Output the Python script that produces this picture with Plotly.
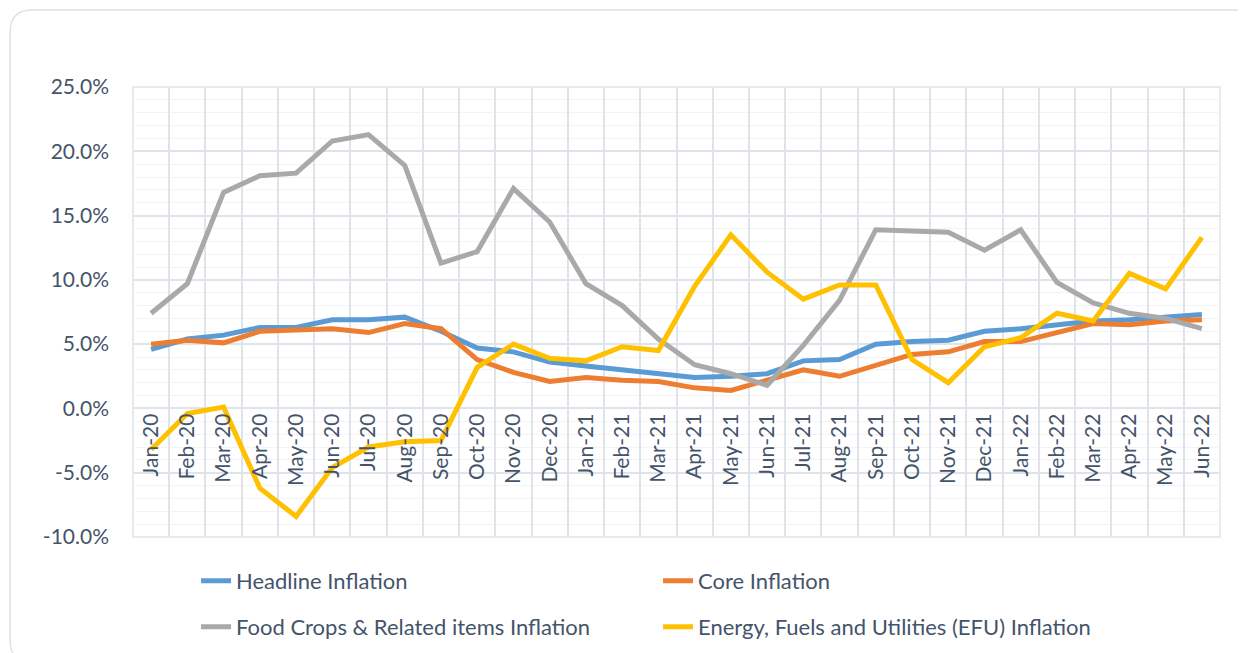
import plotly.graph_objects as go

months = ["Jan-20", "Feb-20", "Mar-20", "Apr-20", "May-20", "Jun-20", "Jul-20", "Aug-20",
          "Sep-20", "Oct-20", "Nov-20", "Dec-20", "Jan-21", "Feb-21", "Mar-21", "Apr-21",
          "May-21", "Jun-21", "Jul-21", "Aug-21", "Sep-21", "Oct-21", "Nov-21", "Dec-21",
          "Jan-22", "Feb-22", "Mar-22", "Apr-22", "May-22", "Jun-22"]

headline = [4.6, 5.4, 5.7, 6.3, 6.3, 6.9, 6.9, 7.1, 6.0, 4.7, 4.4, 3.6, 3.3, 3.0, 2.7, 2.4,
            2.5, 2.7, 3.7, 3.8, 5.0, 5.2, 5.3, 6.0, 6.2, 6.5, 6.8, 6.9, 7.1, 7.3]
core = [5.0, 5.3, 5.1, 6.0, 6.1, 6.2, 5.9, 6.6, 6.2, 3.8, 2.8, 2.1, 2.4, 2.2, 2.1, 1.6,
        1.4, 2.2, 3.0, 2.5, 3.3, 4.2, 4.4, 5.2, 5.2, 5.9, 6.6, 6.5, 6.8, 6.9]
food = [7.4, 9.7, 16.8, 18.1, 18.3, 20.8, 21.3, 18.9, 11.3, 12.2, 17.1, 14.5, 9.7, 8.0,
        5.4, 3.4, 2.7, 1.8, 4.9, 8.4, 13.9, 13.8, 13.7, 12.3, 13.9, 9.8, 8.2, 7.4, 7.0, 6.2]
efu = [-3.2, -0.4, 0.1, -6.2, -8.4, -4.6, -3.0, -2.6, -2.5, 3.2, 5.0, 3.9, 3.7, 4.8,
       4.5, 9.5, 13.5, 10.6, 8.5, 9.6, 9.6, 3.8, 2.0, 4.8, 5.5, 7.4, 6.8, 10.5, 9.3, 13.3]

y_ticks = [-10, -5, 0, 5, 10, 15, 20, 25]
y_labels = ["-10.0%", "-5.0%", "0.0%", "5.0%", "10.0%", "15.0%", "20.0%", "25.0%"]

series = [
    ("Headline Inflation", headline, "#5B9BD5", "legend"),
    ("Core Inflation", core, "#ED7D31", "legend"),
    ("Food Crops & Related items Inflation", food, "#A9A9A9", "legend2"),
    ("Energy, Fuels and Utilities (EFU) Inflation", efu, "#FFC000", "legend2"),
]

text_color = "#44546A"
grid_color = "#dfe3ea"
font_name = "Lato"
fsize = 21

fig = go.Figure()
for name, vals, color, leg in series:
    fig.add_trace(go.Scatter(x=months, y=vals, name=name, mode="lines",
                             line=dict(color=color, width=5), legend=leg))

# outer rounded frame (paper coords)
x0, x1, y0, y1 = -0.113, 1.033, -0.28, 1.171
rx, ry = 0.02, 0.049
frame = (f"M {x0+rx},{y1} L {x1-rx},{y1} Q {x1},{y1} {x1},{y1-ry} L {x1},{y0+ry} "
         f"Q {x1},{y0} {x1-rx},{y0} L {x0+rx},{y0} Q {x0},{y0} {x0},{y0+ry} "
         f"L {x0},{y1-ry} Q {x0},{y1} {x0+rx},{y1} Z")

legend_style = dict(orientation="h", x=0.058, xanchor="left", yanchor="top",
                    entrywidth=417, entrywidthmode="pixels",
                    font=dict(size=22, color=text_color), bgcolor="rgba(0,0,0,0)")

fig.update_layout(
    width=1246, height=653,
    # page body adds 8px offset, so margins are shifted to compensate
    margin=dict(l=125, r=34, t=79, b=124, autoexpand=False),
    plot_bgcolor="white", paper_bgcolor="white",
    font=dict(family=font_name, color=text_color, size=fsize),
    shapes=[
        dict(type="path", path=frame, xref="paper", yref="paper",
             line=dict(color="#dde2e8", width=1.5), layer="below"),
        dict(type="rect", x0=0, x1=1, y0=0, y1=1, xref="paper", yref="paper",
             line=dict(color=grid_color, width=1.5), layer="below"),
    ],
    legend=dict(legend_style, y=-0.051),
    legend2=dict(legend_style, y=-0.153),
)

fig.update_xaxes(
    type="category", range=[-0.5, len(months) - 0.5], tickson="boundaries",
    showgrid=True, gridcolor=grid_color, gridwidth=1.5, tickangle=-90, ticks="",
    showline=False, zeroline=False, automargin=False,
    anchor="free", position=10 / 35, tickfont=dict(size=fsize, color=text_color),
)
fig.update_yaxes(
    range=[-10, 25], tickvals=y_ticks, ticktext=y_labels,
    showgrid=True, gridcolor=grid_color, gridwidth=1.5, zeroline=False,
    ticks="", ticklabelstandoff=23, automargin=False,
    minor=dict(dtick=1, tick0=0, showgrid=True, gridcolor="#f1f3f6", gridwidth=1),
    tickfont=dict(size=fsize, color=text_color),
)

fig.write_html("out.html")
